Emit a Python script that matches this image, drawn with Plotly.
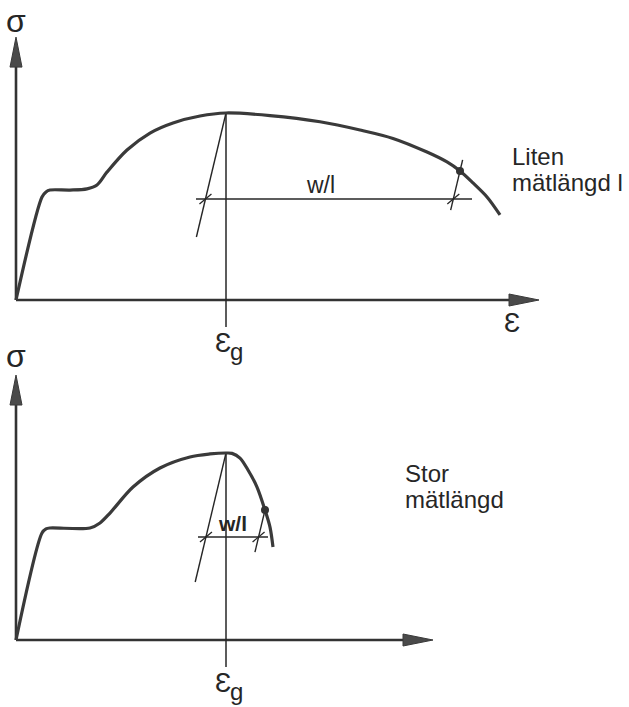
import plotly.graph_objects as go

# ---------------------------------------------------------------------------
# Stress-strain diagrams for two gauge lengths (schematic).
# Strain in arbitrary units, stress in percent of the maximum stress.
# ---------------------------------------------------------------------------

# short gauge length ("Liten mätlängd l")
eps_short = [0, 5.2, 6.0, 6.8, 10.8, 14.2, 16.2, 18.2, 22.2, 26.8, 31.4, 36.8,
             42.0, 50.8, 60.8, 68.8, 75.4, 82.2, 86.2, 88.8, 91.4, 94.2, 96.8]
sig_short = [0, 55.1, 57.8, 58.8, 58.8, 59.4, 61.5, 68.4, 80.2, 89.3, 94.7, 98.4,
             100.0, 98.6, 95.3, 90.9, 86.4, 79.1, 73.8, 69.0, 62.6, 55.1, 45.5]

# long gauge length ("Stor mätlängd")
eps_long = [0, 5.2, 6.0, 6.8, 14.8, 16.8, 18.8, 23.4, 28.8, 34.8, 38.8, 42.0,
            43.2, 44.8, 46.4, 48.2, 49.8, 50.8, 51.4]
sig_long = [0, 57.2, 59.4, 59.9, 59.9, 62.6, 67.9, 81.8, 92.0, 97.9, 99.5, 100.0,
            99.8, 97.3, 90.9, 81.8, 69.5, 60.4, 49.7]

# uniform strain at maximum stress
eps_g = 42.0
sig_max = 100.0

# slope of the unloading lines
e_unload = 11.2

# measurement point (fracture reading) on each curve
point_short = (88.8, 69.0)
point_long = (49.8, 69.5)

# level and extent of the w/l dimension line
wl_short = {"sig": 54.0, "eps": [36.0, 91.2], "tangent_low": 33.7, "unload": [48.1, 74.9]}
wl_long = {"sig": 55.1, "eps": [36.4, 50.4], "tangent_low": 31.0, "unload": [47.0, 71.5]}

# axis ends (arrow tips)
x_tip = {"top": 104.6, "bottom": 83.4}
y_tip = {"top": 140.6, "bottom": 141.7}

# scale of the drawing (pixels per unit)
PX_EPS = 5.0
PX_SIG = 1.87

CURVE = "#3a3a3a"
INK = "#262626"
FONT = "Liberation Sans"

fig = go.Figure()


def line(xs, ys, xa, ya, width, color=INK):
    fig.add_trace(go.Scatter(x=xs, y=ys, xaxis=xa, yaxis=ya, mode="lines",
                             line=dict(color=color, width=width),
                             hoverinfo="skip", showlegend=False))


def poly(xs, ys, xa, ya):
    fig.add_trace(go.Scatter(x=xs, y=ys, xaxis=xa, yaxis=ya, mode="lines",
                             fill="toself", fillcolor="#4a4a4a",
                             line=dict(color="#3a3a3a", width=1),
                             hoverinfo="skip", showlegend=False))


def axes_with_arrows(xa, ya, xt, yt):
    alen_x = 30 / PX_EPS
    alen_y = 30 / PX_SIG
    hw_x = 6 / PX_SIG
    hw_y = 6 / PX_EPS
    line([0, xt - alen_x * 0.5], [0, 0], xa, ya, 2.6, "#333333")
    line([0, 0], [0, yt - alen_y * 0.5], xa, ya, 2.6, "#333333")
    poly([xt - alen_x, xt, xt - alen_x, xt - alen_x], [hw_x, 0, -hw_x, hw_x], xa, ya)
    poly([-hw_y, 0, hw_y, -hw_y], [yt - alen_y, yt, yt - alen_y, yt - alen_y], xa, ya)


def tick(x, y, xa, ya):
    dx = 6 / PX_EPS
    dy = 5 / PX_SIG
    line([x - dx, x + dx], [y - dy, y + dy], xa, ya, 1.3)


def panel(xa, ya, eps, sig, pt, wl, xt, yt):
    axes_with_arrows(xa, ya, xt, yt)
    # vertical line at eps_g
    line([eps_g, eps_g], [sig_max, -27 / PX_SIG], xa, ya, 1.5)
    # unloading line from the maximum point
    e_low = eps_g - (sig_max - wl["tangent_low"]) / e_unload
    line([eps_g, e_low], [sig_max, wl["tangent_low"]], xa, ya, 1.4)
    # unloading line through the measurement point
    u0, u1 = wl["unload"]
    line([pt[0] - (pt[1] - u0) / e_unload, pt[0] + (u1 - pt[1]) / e_unload],
         [u0, u1], xa, ya, 1.4)
    # w/l dimension line with ticks
    line(wl["eps"], [wl["sig"], wl["sig"]], xa, ya, 1.4)
    tick(eps_g - (sig_max - wl["sig"]) / e_unload, wl["sig"], xa, ya)
    tick(pt[0] - (pt[1] - wl["sig"]) / e_unload, wl["sig"], xa, ya)
    # stress-strain curve
    fig.add_trace(go.Scatter(x=eps, y=sig, xaxis=xa, yaxis=ya, mode="lines",
                             line=dict(color=CURVE, width=3.2, shape="spline", smoothing=0.9),
                             hoverinfo="skip", showlegend=False))
    fig.add_trace(go.Scatter(x=[pt[0]], y=[pt[1]], xaxis=xa, yaxis=ya, mode="markers",
                             marker=dict(color="#333333", size=8),
                             hoverinfo="skip", showlegend=False))


panel("x", "y", eps_short, sig_short, point_short, wl_short, x_tip["top"], y_tip["top"])
panel("x2", "y2", eps_long, sig_long, point_long, wl_long, x_tip["bottom"], y_tip["bottom"])


def label(text, x, y, xa, ya, size=25, xanchor="center"):
    fig.add_annotation(text=text, x=x, y=y, xref=xa, yref=ya, showarrow=False,
                       xanchor=xanchor, yanchor="middle",
                       font=dict(family=FONT, size=size, color=INK))


def eps_g_label(xa, ya, y):
    # epsilon with a lowered index g
    label("Ɛ", eps_g - 0.6, y, xa, ya, size=27)
    label("g", eps_g + 2.0, y - 4.3, xa, ya, size=24)


# top panel labels
label("σ", 0, 149, "x", "y", size=32)
label("Ɛ", 99.2, -12.3, "x", "y", size=27)
eps_g_label("x", "y", -23.0)
label("w/l", 60.8, 61.5, "x", "y", size=23)
label("Liten", 98.8, 77, "x", "y", size=24, xanchor="left")
label("mätlängd l", 98.8, 62.6, "x", "y", size=24, xanchor="left")

# bottom panel labels
label("σ", 0, 152, "x2", "y2", size=32)
eps_g_label("x2", "y2", -23.0)
label("<b>w/l</b>", 43.2, 62.5, "x2", "y2", size=21)
label("Stor", 77.4, 88.8, "x2", "y2", size=24, xanchor="left")
label("mätlängd", 77.4, 74.9, "x2", "y2", size=24, xanchor="left")

W, H = 629, 707
split = 355  # pixel row separating the two panels
x_range = [-16 / PX_EPS, (W - 16) / PX_EPS]
hidden = dict(visible=False, showgrid=False, zeroline=False, fixedrange=True)

fig.update_layout(
    width=W, height=H,
    margin=dict(l=0, r=0, t=0, b=0),
    paper_bgcolor="white", plot_bgcolor="white",
    xaxis=dict(domain=[0, 1], range=x_range, anchor="y", **hidden),
    yaxis=dict(domain=[(H - split) / H, 1], anchor="x",
               range=[-(split - 300) / PX_SIG, 300 / PX_SIG], **hidden),
    xaxis2=dict(domain=[0, 1], range=x_range, anchor="y2", **hidden),
    yaxis2=dict(domain=[0, (H - split) / H], anchor="x2",
                range=[-(H - 640) / PX_SIG, (640 - split) / PX_SIG], **hidden),
)

fig.write_html("out.html")
